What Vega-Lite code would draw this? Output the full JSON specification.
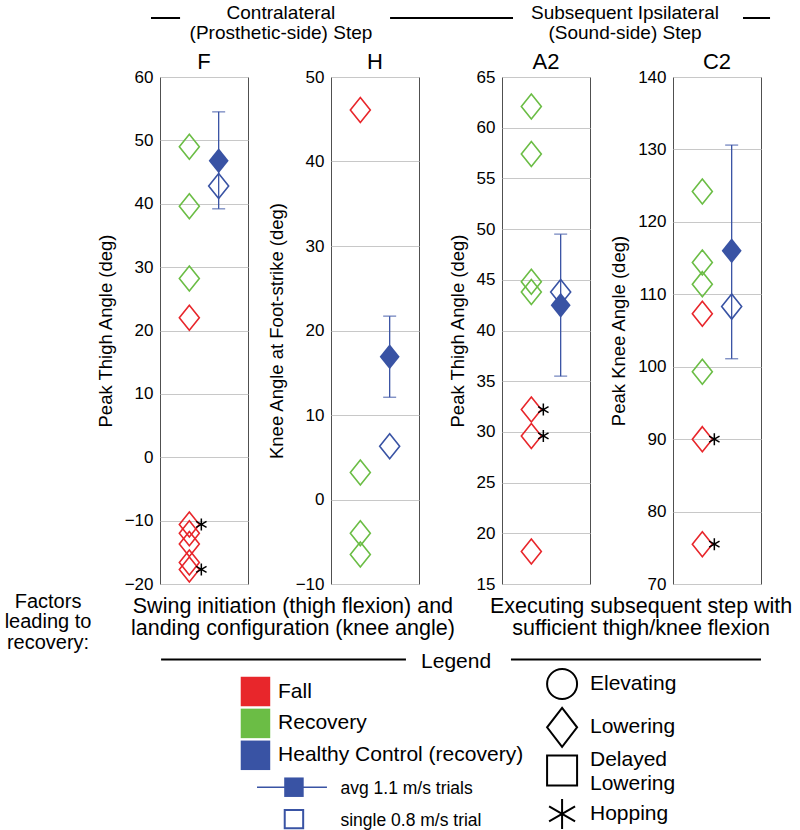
{
  "$schema": "https://vega.github.io/schema/vega-lite/v6.json",
  "autosize": {"type": "pad"},
  "padding": {"left": 4, "top": 3, "right": 5, "bottom": 0},
  "background": "white",
  "datasets": {
    "pts": [
      {"panel": "F", "group": "Recovery", "subject": "Amputee", "kind": "amputee", "value": 49.0, "hop": false},
      {"panel": "F", "group": "Recovery", "subject": "Amputee", "kind": "amputee", "value": 39.6, "hop": false},
      {"panel": "F", "group": "Recovery", "subject": "Amputee", "kind": "amputee", "value": 28.2, "hop": false},
      {"panel": "F", "group": "Fall", "subject": "Amputee", "kind": "amputee", "value": 22.0, "hop": false},
      {"panel": "F", "group": "Fall", "subject": "Amputee", "kind": "amputee", "value": -10.6, "hop": true},
      {"panel": "F", "group": "Fall", "subject": "Amputee", "kind": "amputee", "value": -12.0, "hop": false},
      {"panel": "F", "group": "Fall", "subject": "Amputee", "kind": "amputee", "value": -13.7, "hop": false},
      {"panel": "F", "group": "Fall", "subject": "Amputee", "kind": "amputee", "value": -16.6, "hop": false},
      {"panel": "F", "group": "Fall", "subject": "Amputee", "kind": "amputee", "value": -17.7, "hop": true},
      {"panel": "F", "group": "Healthy Control", "subject": "Control", "kind": "avg", "value": 46.8, "lo": 39.2, "hi": 54.5, "hop": false},
      {"panel": "F", "group": "Healthy Control", "subject": "Control", "kind": "single", "value": 42.8, "hop": false},

      {"panel": "H", "group": "Fall", "subject": "Amputee", "kind": "amputee", "value": 46.1, "hop": false},
      {"panel": "H", "group": "Recovery", "subject": "Amputee", "kind": "amputee", "value": 3.2, "hop": false},
      {"panel": "H", "group": "Recovery", "subject": "Amputee", "kind": "amputee", "value": -4.0, "hop": false},
      {"panel": "H", "group": "Recovery", "subject": "Amputee", "kind": "amputee", "value": -6.5, "hop": false},
      {"panel": "H", "group": "Healthy Control", "subject": "Control", "kind": "avg", "value": 16.9, "lo": 12.1, "hi": 21.7, "hop": false},
      {"panel": "H", "group": "Healthy Control", "subject": "Control", "kind": "single", "value": 6.3, "hop": false},

      {"panel": "A2", "group": "Recovery", "subject": "Amputee", "kind": "amputee", "value": 62.1, "hop": false},
      {"panel": "A2", "group": "Recovery", "subject": "Amputee", "kind": "amputee", "value": 57.4, "hop": false},
      {"panel": "A2", "group": "Recovery", "subject": "Amputee", "kind": "amputee", "value": 44.8, "hop": false},
      {"panel": "A2", "group": "Recovery", "subject": "Amputee", "kind": "amputee", "value": 43.8, "hop": false},
      {"panel": "A2", "group": "Fall", "subject": "Amputee", "kind": "amputee", "value": 32.2, "hop": true},
      {"panel": "A2", "group": "Fall", "subject": "Amputee", "kind": "amputee", "value": 29.6, "hop": true},
      {"panel": "A2", "group": "Fall", "subject": "Amputee", "kind": "amputee", "value": 18.2, "hop": false},
      {"panel": "A2", "group": "Healthy Control", "subject": "Control", "kind": "avg", "value": 42.5, "lo": 35.5, "hi": 49.5, "hop": false},
      {"panel": "A2", "group": "Healthy Control", "subject": "Control", "kind": "single", "value": 43.8, "hop": false},

      {"panel": "C2", "group": "Recovery", "subject": "Amputee", "kind": "amputee", "value": 124.2, "hop": false},
      {"panel": "C2", "group": "Recovery", "subject": "Amputee", "kind": "amputee", "value": 114.4, "hop": false},
      {"panel": "C2", "group": "Recovery", "subject": "Amputee", "kind": "amputee", "value": 111.4, "hop": false},
      {"panel": "C2", "group": "Recovery", "subject": "Amputee", "kind": "amputee", "value": 99.3, "hop": false},
      {"panel": "C2", "group": "Fall", "subject": "Amputee", "kind": "amputee", "value": 107.3, "hop": false},
      {"panel": "C2", "group": "Fall", "subject": "Amputee", "kind": "amputee", "value": 90.0, "hop": true},
      {"panel": "C2", "group": "Fall", "subject": "Amputee", "kind": "amputee", "value": 75.5, "hop": true},
      {"panel": "C2", "group": "Healthy Control", "subject": "Control", "kind": "avg", "value": 116.0, "lo": 101.1, "hi": 130.6, "hop": false},
      {"panel": "C2", "group": "Healthy Control", "subject": "Control", "kind": "single", "value": 108.3, "hop": false}
    ]
  },
  "spacing": 83,
  "bounds": "flush",
  "hconcat": [
    {
      "width": 88,
      "height": 507,
      "resolve": {"scale": {"x": "independent", "y": "independent"}},
      "layer": [
        {
          "data": {"name": "pts"},
          "transform": [{"filter": "datum.panel === 'F'"}],
          "encoding": {
            "x": {"field": "subject", "type": "nominal", "scale": {"type": "point", "domain": ["Amputee", "Control"], "padding": 1}, "axis": {"labels": false, "title": null}},
            "y": {"field": "value", "type": "quantitative", "scale": {"domain": [-20, 60], "nice": false, "zero": false}, "axis": {"title": "Peak Thigh Angle (deg)", "values": [-20, -10, 0, 10, 20, 30, 40, 50, 60]}}
          },
          "layer": [
            {"transform": [{"filter": "datum.kind === 'avg'"}], "mark": {"type": "rule", "color": "#3953a4", "strokeWidth": 1.3}, "encoding": {"y": {"field": "lo", "type": "quantitative"}, "y2": {"field": "hi"}}},
            {"transform": [{"filter": "datum.kind === 'avg'"}, {"fold": ["lo", "hi"], "as": ["end", "bound"]}], "mark": {"type": "tick", "orient": "horizontal", "size": 13, "thickness": 1.3, "color": "#3953a4"}, "encoding": {"y": {"field": "bound", "type": "quantitative"}}},
            {"transform": [{"filter": "datum.kind !== 'avg'"}], "mark": {"type": "point", "shape": "M0,-1.25L1,0L0,1.25L-1,0Z", "size": 400, "filled": false, "strokeWidth": 1.6, "opacity": 1}, "encoding": {"color": {"field": "group", "type": "nominal", "scale": {"domain": ["Fall", "Recovery", "Healthy Control"], "range": ["#e8262b", "#6bbd45", "#3953a4"]}, "legend": null}}},
            {"transform": [{"filter": "datum.kind === 'avg'"}], "mark": {"type": "point", "shape": "M0,-1.25L1,0L0,1.25L-1,0Z", "size": 400, "filled": true, "opacity": 1}, "encoding": {"color": {"field": "group", "type": "nominal", "legend": null}}},
            {"transform": [{"filter": "datum.hop"}], "mark": {"type": "point", "shape": "M2,-1L2,1M1.134,-0.5L2.866,0.5M1.134,0.5L2.866,-0.5", "size": 144, "filled": false, "color": "black", "strokeWidth": 1.5, "opacity": 1}}
          ]
        },
        {
          "data": {"values": [
            {"label": "Contralateral\n(Prosthetic-side) Step", "section": "contra"},
            {"label": "Subsequent Ipsilateral\n(Sound-side) Step", "section": "ipsi"},
            {"label": "F", "section": "panel", "index": 1},
            {"label": "H", "section": "panel", "index": 2},
            {"label": "A2", "section": "panel", "index": 3},
            {"label": "C2", "section": "panel", "index": 4}
          ]},
          "layer": [
            {"transform": [{"filter": "datum.section === 'contra'"}], "mark": {"type": "text", "fontSize": 19, "lineBreak": "\n", "lineHeight": 20, "baseline": "middle", "align": "center", "dy": -4.5},
             "encoding": {"x": {"datum": 1.45, "type": "quantitative", "scale": {"domain": [0.7427, 1.2573], "nice": false, "zero": false}, "axis": null}, "y": {"datum": 1, "type": "quantitative", "scale": {"domain": [4.026, 30.026], "reverse": true, "nice": false, "zero": false}, "axis": null}, "text": {"field": "label"}}},
            {"transform": [{"filter": "datum.section === 'ipsi'"}], "mark": {"type": "text", "fontSize": 19, "lineBreak": "\n", "lineHeight": 20, "baseline": "middle", "align": "center", "dy": -4.5},
             "encoding": {"x": {"datum": 3.462, "type": "quantitative"}, "y": {"datum": 1, "type": "quantitative"}, "text": {"field": "label"}}},
            {"transform": [{"filter": "datum.section === 'panel'"}], "mark": {"type": "text", "fontSize": 22, "baseline": "middle", "align": "center"},
             "encoding": {"x": {"field": "index", "type": "quantitative"}, "y": {"datum": 3.25, "type": "quantitative"}, "text": {"field": "label"}}},
            {"transform": [{"filter": "datum.section === 'contra'"}], "mark": {"type": "rule", "color": "black", "strokeWidth": 2},
             "encoding": {"x": {"datum": 0.69, "type": "quantitative"}, "x2": {"datum": 0.86}, "y": {"datum": 1, "type": "quantitative"}}},
            {"transform": [{"filter": "datum.section === 'contra'"}], "mark": {"type": "rule", "color": "black", "strokeWidth": 2},
             "encoding": {"x": {"datum": 2.088, "type": "quantitative"}, "x2": {"datum": 2.807}, "y": {"datum": 1, "type": "quantitative"}}},
            {"transform": [{"filter": "datum.section === 'ipsi'"}], "mark": {"type": "rule", "color": "black", "strokeWidth": 2},
             "encoding": {"x": {"datum": 4.152, "type": "quantitative"}, "x2": {"datum": 4.31}, "y": {"datum": 1, "type": "quantitative"}}}
          ]
        },
        {
          "data": {"values": [
            {"label": "Factors\nleading to\nrecovery:", "part": "factors"},
            {"label": "Swing initiation (thigh flexion) and\nlanding configuration (knee angle)", "part": "contra"},
            {"label": "Executing subsequent step with\nsufficient thigh/knee flexion", "part": "ipsi"}
          ]},
          "layer": [
            {"transform": [{"filter": "datum.part === 'factors'"}], "mark": {"type": "text", "fontSize": 20, "lineBreak": "\n", "lineHeight": 20.5, "baseline": "middle", "align": "center", "dy": -16},
             "encoding": {"x": {"datum": 0.088, "type": "quantitative", "scale": {"domain": [0.7427, 1.2573], "nice": false, "zero": false}, "axis": null}, "y": {"datum": 1, "type": "quantitative", "scale": {"domain": [-27.474, -0.789], "reverse": true, "nice": false, "zero": false}, "axis": null}, "text": {"field": "label"}}},
            {"transform": [{"filter": "datum.part === 'contra'"}], "mark": {"type": "text", "fontSize": 21.5, "lineBreak": "\n", "lineHeight": 22.5, "baseline": "middle", "align": "center", "dy": -11},
             "encoding": {"x": {"datum": 1.52, "type": "quantitative"}, "y": {"datum": 1, "type": "quantitative"}, "text": {"field": "label"}}},
            {"transform": [{"filter": "datum.part === 'ipsi'"}], "mark": {"type": "text", "fontSize": 21.5, "lineBreak": "\n", "lineHeight": 22.5, "baseline": "middle", "align": "center", "dy": -11},
             "encoding": {"x": {"datum": 3.556, "type": "quantitative"}, "y": {"datum": 1, "type": "quantitative"}, "text": {"field": "label"}}}
          ]
        },
        {
          "data": {"values": [
            {"label": "Legend", "part": "title", "rank": 0},
            {"label": "Fall", "group": "Fall", "part": "color", "rank": 1},
            {"label": "Recovery", "group": "Recovery", "part": "color", "rank": 2},
            {"label": "Healthy Control (recovery)", "group": "Healthy Control", "part": "color", "rank": 3},
            {"label": "avg 1.1 m/s trials", "kind": "avg", "part": "trial", "rank": 4},
            {"label": "single 0.8 m/s trial", "kind": "single", "part": "trial", "rank": 5}
          ]},
          "layer": [
            {"transform": [{"filter": "datum.part === 'title'"}], "mark": {"type": "text", "fontSize": 21, "baseline": "middle", "align": "center", "dy": 2},
             "encoding": {"x": {"datum": 2.474, "type": "quantitative", "scale": {"domain": [0.7427, 1.2573], "nice": false, "zero": false}, "axis": null}, "y": {"field": "rank", "type": "quantitative", "scale": {"domain": [-18.263, -2.37], "reverse": true, "nice": false, "zero": false}, "axis": null}, "text": {"field": "label"}}},
            {"transform": [{"filter": "datum.part === 'title'"}], "mark": {"type": "rule", "color": "black", "strokeWidth": 2},
             "encoding": {"x": {"datum": 0.749, "type": "quantitative"}, "x2": {"datum": 2.181}, "y": {"field": "rank", "type": "quantitative"}}},
            {"transform": [{"filter": "datum.part === 'title'"}], "mark": {"type": "rule", "color": "black", "strokeWidth": 2},
             "encoding": {"x": {"datum": 2.795, "type": "quantitative"}, "x2": {"datum": 4.257}, "y": {"field": "rank", "type": "quantitative"}}},
            {"transform": [{"filter": "datum.part === 'color'"}], "mark": {"type": "point", "shape": "square", "size": 870, "filled": true, "opacity": 1},
             "encoding": {"x": {"datum": 1.301, "type": "quantitative"}, "y": {"field": "rank", "type": "quantitative"}, "color": {"field": "group", "type": "nominal", "legend": null}}},
            {"transform": [{"filter": "datum.part === 'color'"}], "mark": {"type": "text", "fontSize": 21, "baseline": "middle", "align": "left"},
             "encoding": {"x": {"datum": 1.433, "type": "quantitative"}, "y": {"field": "rank", "type": "quantitative"}, "text": {"field": "label"}}},
            {"transform": [{"filter": "datum.kind === 'avg'"}], "mark": {"type": "rule", "color": "#3953a4", "strokeWidth": 1.5},
             "encoding": {"x": {"datum": 1.31, "type": "quantitative"}, "x2": {"datum": 1.719}, "y": {"field": "rank", "type": "quantitative"}}},
            {"transform": [{"filter": "datum.kind === 'avg'"}], "mark": {"type": "point", "shape": "square", "size": 380, "filled": true, "color": "#3953a4", "opacity": 1},
             "encoding": {"x": {"datum": 1.526, "type": "quantitative"}, "y": {"field": "rank", "type": "quantitative"}}},
            {"transform": [{"filter": "datum.kind === 'single'"}], "mark": {"type": "point", "shape": "square", "size": 340, "filled": false, "color": "#3953a4", "strokeWidth": 2, "opacity": 1},
             "encoding": {"x": {"datum": 1.526, "type": "quantitative"}, "y": {"field": "rank", "type": "quantitative"}}},
            {"transform": [{"filter": "datum.part === 'trial'"}], "mark": {"type": "text", "fontSize": 17.5, "baseline": "middle", "align": "left", "dy": 2},
             "encoding": {"x": {"datum": 1.798, "type": "quantitative"}, "y": {"field": "rank", "type": "quantitative"}, "text": {"field": "label"}}}
          ]
        },
        {
          "data": {"values": [
            {"label": "Elevating", "rank": 1},
            {"label": "Lowering", "rank": 2},
            {"label": "Delayed\nLowering", "rank": 3},
            {"label": "Hopping", "rank": 4}
          ]},
          "encoding": {
            "y": {"field": "rank", "type": "quantitative", "scale": {"domain": [-13.018, -1.309], "reverse": true, "nice": false, "zero": false}, "axis": null}
          },
          "layer": [
            {"mark": {"type": "point", "filled": false, "color": "black", "strokeWidth": 2, "opacity": 1},
             "encoding": {
               "x": {"datum": 3.094, "type": "quantitative", "scale": {"domain": [0.7427, 1.2573], "nice": false, "zero": false}, "axis": null},
               "shape": {"field": "label", "type": "nominal", "scale": {"domain": ["Elevating", "Lowering", "Delayed\nLowering", "Hopping"], "range": ["circle", "M0,-1.3L1,0L0,1.3L-1,0Z", "square", "M0,-1L0,1M-0.866,-0.5L0.866,0.5M-0.866,0.5L0.866,-0.5"]}, "legend": null},
               "size": {"field": "label", "type": "ordinal", "scale": {"domain": ["Elevating", "Lowering", "Delayed\nLowering", "Hopping"], "range": [900, 900, 560, 196]}, "legend": null}
             }},
            {"transform": [{"filter": "datum.rank !== 3"}], "mark": {"type": "text", "fontSize": 21, "baseline": "middle", "align": "left"},
             "encoding": {"x": {"datum": 3.257, "type": "quantitative"}, "text": {"field": "label"}}},
            {"transform": [{"filter": "datum.rank === 3"}], "mark": {"type": "text", "fontSize": 21, "lineBreak": "\n", "lineHeight": 24, "baseline": "middle", "align": "left", "dy": -11},
             "encoding": {"x": {"datum": 3.257, "type": "quantitative"}, "text": {"field": "label"}}}
          ]
        }
      ]
    },
    {
      "width": 88,
      "height": 507,
      "data": {"name": "pts"},
      "transform": [{"filter": "datum.panel === 'H'"}],
      "encoding": {
        "x": {"field": "subject", "type": "nominal", "scale": {"type": "point", "domain": ["Amputee", "Control"], "padding": 1}, "axis": {"labels": false, "title": null}},
        "y": {"field": "value", "type": "quantitative", "scale": {"domain": [-10, 50], "nice": false, "zero": false}, "axis": {"title": "Knee Angle at Foot-strike (deg)", "values": [-10, 0, 10, 20, 30, 40, 50]}}
      },
      "layer": [
        {"transform": [{"filter": "datum.kind === 'avg'"}], "mark": {"type": "rule", "color": "#3953a4", "strokeWidth": 1.3}, "encoding": {"y": {"field": "lo", "type": "quantitative"}, "y2": {"field": "hi"}}},
        {"transform": [{"filter": "datum.kind === 'avg'"}, {"fold": ["lo", "hi"], "as": ["end", "bound"]}], "mark": {"type": "tick", "orient": "horizontal", "size": 13, "thickness": 1.3, "color": "#3953a4"}, "encoding": {"y": {"field": "bound", "type": "quantitative"}}},
        {"transform": [{"filter": "datum.kind !== 'avg'"}], "mark": {"type": "point", "shape": "M0,-1.25L1,0L0,1.25L-1,0Z", "size": 400, "filled": false, "strokeWidth": 1.6, "opacity": 1}, "encoding": {"color": {"field": "group", "type": "nominal", "scale": {"domain": ["Fall", "Recovery", "Healthy Control"], "range": ["#e8262b", "#6bbd45", "#3953a4"]}, "legend": null}}},
        {"transform": [{"filter": "datum.kind === 'avg'"}], "mark": {"type": "point", "shape": "M0,-1.25L1,0L0,1.25L-1,0Z", "size": 400, "filled": true, "opacity": 1}, "encoding": {"color": {"field": "group", "type": "nominal", "legend": null}}},
        {"transform": [{"filter": "datum.hop"}], "mark": {"type": "point", "shape": "M2,-1L2,1M1.134,-0.5L2.866,0.5M1.134,0.5L2.866,-0.5", "size": 144, "filled": false, "color": "black", "strokeWidth": 1.5, "opacity": 1}}
      ]
    },
    {
      "width": 88,
      "height": 507,
      "data": {"name": "pts"},
      "transform": [{"filter": "datum.panel === 'A2'"}],
      "encoding": {
        "x": {"field": "subject", "type": "nominal", "scale": {"type": "point", "domain": ["Amputee", "Control"], "padding": 1}, "axis": {"labels": false, "title": null}},
        "y": {"field": "value", "type": "quantitative", "scale": {"domain": [15, 65], "nice": false, "zero": false}, "axis": {"title": "Peak Thigh Angle (deg)", "values": [15, 20, 25, 30, 35, 40, 45, 50, 55, 60, 65]}}
      },
      "layer": [
        {"transform": [{"filter": "datum.kind === 'avg'"}], "mark": {"type": "rule", "color": "#3953a4", "strokeWidth": 1.3}, "encoding": {"y": {"field": "lo", "type": "quantitative"}, "y2": {"field": "hi"}}},
        {"transform": [{"filter": "datum.kind === 'avg'"}, {"fold": ["lo", "hi"], "as": ["end", "bound"]}], "mark": {"type": "tick", "orient": "horizontal", "size": 13, "thickness": 1.3, "color": "#3953a4"}, "encoding": {"y": {"field": "bound", "type": "quantitative"}}},
        {"transform": [{"filter": "datum.kind !== 'avg'"}], "mark": {"type": "point", "shape": "M0,-1.25L1,0L0,1.25L-1,0Z", "size": 400, "filled": false, "strokeWidth": 1.6, "opacity": 1}, "encoding": {"color": {"field": "group", "type": "nominal", "scale": {"domain": ["Fall", "Recovery", "Healthy Control"], "range": ["#e8262b", "#6bbd45", "#3953a4"]}, "legend": null}}},
        {"transform": [{"filter": "datum.kind === 'avg'"}], "mark": {"type": "point", "shape": "M0,-1.25L1,0L0,1.25L-1,0Z", "size": 400, "filled": true, "opacity": 1}, "encoding": {"color": {"field": "group", "type": "nominal", "legend": null}}},
        {"transform": [{"filter": "datum.hop"}], "mark": {"type": "point", "shape": "M2,-1L2,1M1.134,-0.5L2.866,0.5M1.134,0.5L2.866,-0.5", "size": 144, "filled": false, "color": "black", "strokeWidth": 1.5, "opacity": 1}}
      ]
    },
    {
      "width": 88,
      "height": 507,
      "data": {"name": "pts"},
      "transform": [{"filter": "datum.panel === 'C2'"}],
      "encoding": {
        "x": {"field": "subject", "type": "nominal", "scale": {"type": "point", "domain": ["Amputee", "Control"], "padding": 1}, "axis": {"labels": false, "title": null}},
        "y": {"field": "value", "type": "quantitative", "scale": {"domain": [70, 140], "nice": false, "zero": false}, "axis": {"title": "Peak Knee Angle (deg)", "values": [70, 80, 90, 100, 110, 120, 130, 140]}}
      },
      "layer": [
        {"transform": [{"filter": "datum.kind === 'avg'"}], "mark": {"type": "rule", "color": "#3953a4", "strokeWidth": 1.3}, "encoding": {"y": {"field": "lo", "type": "quantitative"}, "y2": {"field": "hi"}}},
        {"transform": [{"filter": "datum.kind === 'avg'"}, {"fold": ["lo", "hi"], "as": ["end", "bound"]}], "mark": {"type": "tick", "orient": "horizontal", "size": 13, "thickness": 1.3, "color": "#3953a4"}, "encoding": {"y": {"field": "bound", "type": "quantitative"}}},
        {"transform": [{"filter": "datum.kind !== 'avg'"}], "mark": {"type": "point", "shape": "M0,-1.25L1,0L0,1.25L-1,0Z", "size": 400, "filled": false, "strokeWidth": 1.6, "opacity": 1}, "encoding": {"color": {"field": "group", "type": "nominal", "scale": {"domain": ["Fall", "Recovery", "Healthy Control"], "range": ["#e8262b", "#6bbd45", "#3953a4"]}, "legend": null}}},
        {"transform": [{"filter": "datum.kind === 'avg'"}], "mark": {"type": "point", "shape": "M0,-1.25L1,0L0,1.25L-1,0Z", "size": 400, "filled": true, "opacity": 1}, "encoding": {"color": {"field": "group", "type": "nominal", "legend": null}}},
        {"transform": [{"filter": "datum.hop"}], "mark": {"type": "point", "shape": "M2,-1L2,1M1.134,-0.5L2.866,0.5M1.134,0.5L2.866,-0.5", "size": 144, "filled": false, "color": "black", "strokeWidth": 1.5, "opacity": 1}}
      ]
    }
  ],
  "config": {
    "font": "Liberation Sans",
    "view": {"stroke": "#505050", "strokeWidth": 1},
    "axis": {"gridColor": "#c8c8c8", "gridWidth": 1, "gridOpacity": 1, "ticks": false, "domain": false, "labelFont": "Liberation Sans", "labelFontSize": 17, "labelColor": "#000000", "labelPadding": 7, "titleFont": "Liberation Sans", "titleFontSize": 18.5, "titleFontWeight": "normal", "titleColor": "#000000", "titlePadding": 9},
    "text": {"font": "Liberation Sans", "color": "#000000"}
  }
}
